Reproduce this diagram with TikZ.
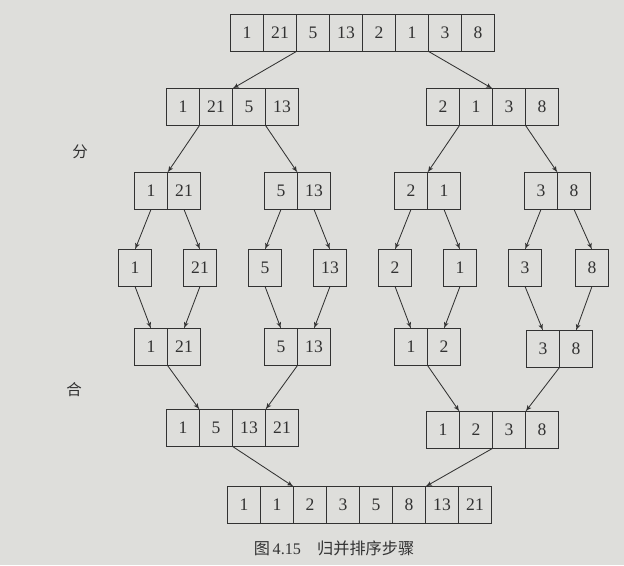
\documentclass[tikz,border=0pt]{standalone}
\usepackage{fontspec}
\setmainfont{Liberation Serif}
\newfontfamily\cjk{Noto Sans CJK SC}
\usepackage{tikz}
\usetikzlibrary{arrows}
\definecolor{paper}{RGB}{222,222,219}
\definecolor{ink}{RGB}{50,50,50}
\tikzset{
    cell/.style={rectangle,draw=ink,line width=0.7pt,minimum width=0.825cm,minimum height=0.92cm,
        inner sep=0pt,outer sep=0pt,text=ink,font=\fontsize{12.5}{14}\selectfont},
    edge/.style={->,> = latex',draw=ink,line width=0.6pt},
    mark label/.style={text=ink,font=\cjk\fontsize{11}{13}\selectfont}
}

\begin{document}
\begin{tikzpicture} [x=0.025cm,y=-0.025cm]
\fill[paper] (0,0) rectangle (624,565);
\useasboundingbox (0,0) rectangle (624,565);

% original array
\node[cell] (t1) at (247,33) {1};
\node[cell] (t2) at (280,33) {21};
\node[cell] (t3) at (313,33) {5};
\node[cell] (t4) at (346,33) {13};
\node[cell] (t5) at (379,33) {2};
\node[cell] (t6) at (412,33) {1};
\node[cell] (t7) at (445,33) {3};
\node[cell] (t8) at (478,33) {8};

% split into halves
\node[cell] (a1) at (183,107) {1};
\node[cell] (a2) at (216,107) {21};
\node[cell] (a3) at (249,107) {5};
\node[cell] (a4) at (282,107) {13};
\node[cell] (b1) at (443,107) {2};
\node[cell] (b2) at (476,107) {1};
\node[cell] (b3) at (509,107) {3};
\node[cell] (b4) at (542,107) {8};

% split into pairs
\node[cell] (c1) at (151,191) {1};
\node[cell] (c2) at (184,191) {21};
\node[cell] (d1) at (281,191) {5};
\node[cell] (d2) at (314,191) {13};
\node[cell] (e1) at (411,191) {2};
\node[cell] (e2) at (444,191) {1};
\node[cell] (f1) at (541,191) {3};
\node[cell] (f2) at (574,191) {8};

% single elements
\node[cell] (s1) at (135,268) {1};
\node[cell] (s2) at (200,268) {21};
\node[cell] (s3) at (265,268) {5};
\node[cell] (s4) at (330,268) {13};
\node[cell] (s5) at (395,268) {2};
\node[cell] (s6) at (460,268) {1};
\node[cell] (s7) at (525,268) {3};
\node[cell] (s8) at (592,268) {8};

% merged pairs
\node[cell] (g1) at (151,347) {1};
\node[cell] (g2) at (184,347) {21};
\node[cell] (h1) at (281,347) {5};
\node[cell] (h2) at (314,347) {13};
\node[cell] (i1) at (411,347) {1};
\node[cell] (i2) at (444,347) {2};
\node[cell] (j1) at (543,349) {3};
\node[cell] (j2) at (576,349) {8};

% merged halves
\node[cell] (m1) at (183,428) {1};
\node[cell] (m2) at (216,428) {5};
\node[cell] (m3) at (249,428) {13};
\node[cell] (m4) at (282,428) {21};
\node[cell] (n1) at (443,430) {1};
\node[cell] (n2) at (476,430) {2};
\node[cell] (n3) at (509,430) {3};
\node[cell] (n4) at (542,430) {8};

% sorted array
\node[cell] (r1) at (244,505) {1};
\node[cell] (r2) at (277,505) {1};
\node[cell] (r3) at (310,505) {2};
\node[cell] (r4) at (343,505) {3};
\node[cell] (r5) at (376,505) {5};
\node[cell] (r6) at (409,505) {8};
\node[cell] (r7) at (442,505) {13};
\node[cell] (r8) at (475,505) {21};

\node[mark label] (fen) at (80,152) {分};
\node[mark label] (he) at (74,390) {合};
\node[text=ink,font=\fontsize{11.5}{13}\selectfont] (cap) at (334,548) {{\cjk 图}\,4.15\quad{\cjk 归并排序步骤}};

\draw[edge] (t2.south east) -- (a2.north east);
\draw[edge] (t6.south east) -- (b2.north east);
\draw[edge] (a1.south east) -- (c1.north east);
\draw[edge] (a3.south east) -- (d1.north east);
\draw[edge] (b1.south east) -- (e1.north east);
\draw[edge] (b3.south east) -- (f1.north east);
\draw[edge] (c1.south) -- (s1.north);
\draw[edge] (c2.south) -- (s2.north);
\draw[edge] (d1.south) -- (s3.north);
\draw[edge] (d2.south) -- (s4.north);
\draw[edge] (e1.south) -- (s5.north);
\draw[edge] (e2.south) -- (s6.north);
\draw[edge] (f1.south) -- (s7.north);
\draw[edge] (f2.south) -- (s8.north);
\draw[edge] (s1.south) -- (g1.north);
\draw[edge] (s2.south) -- (g2.north);
\draw[edge] (s3.south) -- (h1.north);
\draw[edge] (s4.south) -- (h2.north);
\draw[edge] (s5.south) -- (i1.north);
\draw[edge] (s6.south) -- (i2.north);
\draw[edge] (s7.south) -- (j1.north);
\draw[edge] (s8.south) -- (j2.north);
\draw[edge] (g1.south east) -- (m1.north east);
\draw[edge] (h1.south east) -- (m3.north east);
\draw[edge] (i1.south east) -- (n1.north east);
\draw[edge] (j1.south east) -- (n3.north east);
\draw[edge] (m2.south east) -- (r2.north east);
\draw[edge] (n2.south east) -- (r6.north east);

\end{tikzpicture}
\end{document}
